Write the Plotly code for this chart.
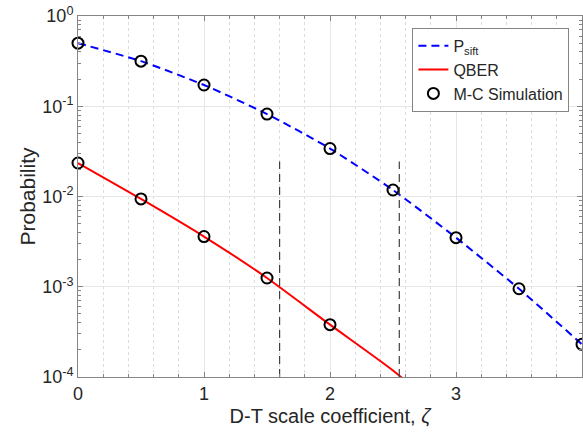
import plotly.graph_objects as go

# Data
zeta_sim = [0, 0.5, 1, 1.5, 2, 2.5, 3, 3.5, 4]
psift_sim = [0.50, 0.316, 0.172, 0.082, 0.034, 0.0118, 0.0035, 0.00095, 0.00023]
qber_zeta = [0, 0.5, 1, 1.5, 2]
qber_sim = [0.0235, 0.0094, 0.0036, 0.00125, 0.00038]

psift_line_x = [0, 0.5, 1, 1.5, 2, 2.5, 3, 3.5, 4]
psift_line_y = [0.50, 0.316, 0.172, 0.082, 0.034, 0.0118, 0.0035, 0.00095, 0.00023]
qber_line_x = [0, 0.5, 1, 1.5, 2, 2.5, 3]
qber_line_y = [0.0235, 0.0094, 0.0036, 0.00125, 0.00038, 0.000118, 0.00003]

vline_x = [1.6, 2.55]
vline_y = [1e-4, 0.0245]

y_tickvals = [1e-4, 1e-3, 1e-2, 1e-1, 1]
y_ticktext = ["10<sup>-4</sup>", "10<sup>-3</sup>", "10<sup>-2</sup>", "10<sup>-1</sup>", "10<sup>0</sup>"]
y_minor = [m * 10 ** e for e in range(-4, 0) for m in range(2, 10)]

axis_col = "#858585"
text_col = "#262626"
font_family = "Liberation Sans, Arial, sans-serif"

fig = go.Figure()

fig.add_trace(go.Scatter(
    x=psift_line_x, y=psift_line_y, mode="lines", name="P<sub>sift</sub>",
    line=dict(color="#0000ff", width=2, dash="8px,5px", shape="spline", smoothing=0.6),
))
fig.add_trace(go.Scatter(
    x=qber_line_x, y=qber_line_y, mode="lines", name="QBER",
    line=dict(color="#ff0000", width=2, shape="spline", smoothing=0.6),
))
fig.add_trace(go.Scatter(
    x=zeta_sim, y=psift_sim, mode="markers", name="M-C Simulation",
    marker=dict(symbol="circle-open", size=11, color="black", line=dict(width=2, color="black")),
    cliponaxis=False,
))
fig.add_trace(go.Scatter(
    x=qber_zeta, y=qber_sim, mode="markers", name="M-C Simulation", showlegend=False,
    marker=dict(symbol="circle-open", size=11, color="black", line=dict(width=2, color="black")),
    cliponaxis=False,
))
for vx in vline_x:
    fig.add_trace(go.Scatter(
        x=[vx, vx], y=vline_y, mode="lines", showlegend=False,
        line=dict(color="#404040", width=1.2, dash="8px,5px"),
    ))

fig.update_layout(
    width=583, height=436,
    margin=dict(l=78, r=1, t=16, b=59),
    paper_bgcolor="white", plot_bgcolor="white",
    font=dict(family=font_family, size=15, color=text_col),
    showlegend=True,
    legend=dict(
        x=0.975, y=0.967, xanchor="right", yanchor="top",
        bgcolor="white", bordercolor=axis_col, borderwidth=1,
        font=dict(size=16, color=text_col), tracegroupgap=0,
        itemwidth=30,
    ),
)

fig.update_xaxes(
    range=[0, 4], tickvals=[0, 1, 2, 3, 4], ticktext=["0", "1", "2", "3", "4"],
    automargin=False,
    ticks="inside", ticklen=5, tickcolor=axis_col,
    showline=True, linecolor=axis_col, linewidth=1, mirror="allticks",
    showgrid=True, gridcolor="#e6e6e6", gridwidth=1, zeroline=False,
    minor=dict(dtick=0.2, tick0=0, ticks="inside", ticklen=3, tickcolor=axis_col,
               showgrid=True, gridcolor="#dcdcdc", griddash="dot", gridwidth=1),
    tickfont=dict(size=18, color=text_col),
    title=dict(text="D-T scale coefficient, <i>ζ</i>", font=dict(size=20, color=text_col), standoff=6),
)
fig.update_yaxes(
    type="log", range=[-4, 0], tickvals=y_tickvals, ticktext=y_ticktext,
    automargin=False,
    ticks="inside", ticklen=5, tickcolor=axis_col,
    showline=True, linecolor=axis_col, linewidth=1, mirror="allticks",
    showgrid=True, gridcolor="#e6e6e6", gridwidth=1, zeroline=False,
    minor=dict(tickvals=y_minor, ticks="inside", ticklen=3, tickcolor=axis_col, showgrid=False),
    tickfont=dict(size=18, color=text_col),
    title=dict(text="Probability", font=dict(size=21, color=text_col), standoff=0),
)

fig.write_html(
    "out.html",
    config={"displayModeBar": False},
    post_script="document.body.style.margin='0';document.body.style.overflow='hidden';",
)
